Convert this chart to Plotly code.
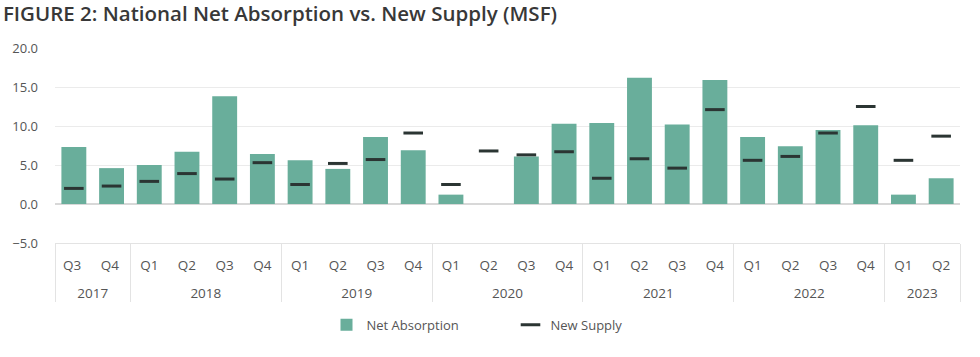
import plotly.graph_objects as go

years = ["2017"] * 2 + ["2018"] * 4 + ["2019"] * 4 + ["2020"] * 4 + ["2021"] * 4 + ["2022"] * 4 + ["2023"] * 2
# the two 2017 quarters carry a trailing space so that Plotly's multicategory
# ordering keeps Q1..Q4 in calendar order inside every later year
quarters = ["Q3 ", "Q4 "] + ["Q1", "Q2", "Q3", "Q4"] * 5 + ["Q1", "Q2"]

net_absorption = [7.3, 4.6, 5.0, 6.7, 13.8, 6.4, 5.6, 4.5, 8.6, 6.9, 1.2, None,
                  6.1, 10.3, 10.4, 16.2, 10.2, 15.9, 8.6, 7.4, 9.5, 10.1, 1.2, 3.3]
new_supply = [2.0, 2.3, 2.9, 3.9, 3.2, 5.3, 2.5, 5.2, 5.7, 9.1, 2.5, 6.8,
              6.3, 6.7, 3.3, 5.8, 4.6, 12.1, 5.6, 6.1, 9.1, 12.5, 5.6, 8.7]

y_ticks = [-5, 0, 5, 10, 15, 20]
title_text = "FIGURE 2: National Net Absorption vs. New Supply (MSF)"

# year labels sit one line lower than the quarter labels
year_labels = ["<br>" + y for y in years]

FONT = "'Open Sans', 'Noto Sans', sans-serif"
TXT = "#555555"

fig = go.Figure()
fig.add_trace(go.Bar(
    x=[year_labels, quarters], y=net_absorption, name="Net Absorption",
    marker=dict(color="#69ae9b", line=dict(width=0)),
))
fig.add_trace(go.Scatter(
    x=[year_labels, quarters], y=new_supply, name="New Supply", mode="markers",
    marker=dict(symbol="line-ew", size=14, line=dict(color="#2b3533", width=3)),
))

fig.update_layout(
    width=980, height=357,
    margin=dict(l=48, r=20, t=48, b=114),
    paper_bgcolor="white", plot_bgcolor="white",
    font=dict(family=FONT, size=13, color=TXT),
    title=dict(text=title_text, x=0.003, xanchor="left", y=0.962, yanchor="middle",
               font=dict(family=FONT, size=20.5, color="#383838", weight=600)),
    bargap=0.34,
    showlegend=True,
    legend=dict(orientation="h", x=0.30, xanchor="left", y=-0.42, yanchor="middle",
                font=dict(size=13, color=TXT), entrywidth=139, entrywidthmode="pixels",
                traceorder="normal"),
    xaxis=dict(type="multicategory", showline=True, linecolor="#e3e3e3",
               range=[-0.5, len(years) - 0.5],
               showdividers=True, dividercolor="#e3e3e3", dividerwidth=1,
               tickfont=dict(size=13.5, color=TXT), showgrid=False, ticklabelstandoff=10),
    yaxis=dict(range=[-5, 20], tickvals=y_ticks, tickformat=".1f",
               showgrid=True, gridcolor="#ebebeb", zeroline=True, zerolinecolor="#d8d8d8",
               tickfont=dict(size=13, color=TXT), ticklabelstandoff=16),
)

fig.write_html(
    "out.html",
    config={"displayModeBar": False},
    post_script="document.body.style.margin='0';document.body.style.padding='0';"
                "document.body.style.overflow='hidden';",
)
